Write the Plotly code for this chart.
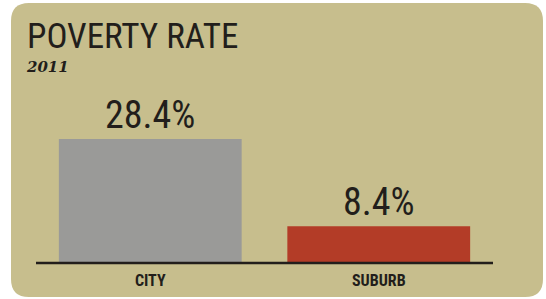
import plotly.graph_objects as go

categories = ["CITY", "SUBURB"]
values = [28.4, 8.4]
value_labels = ["28.4%", "8.4%"]
bar_colors = ["#9a9a98", "#b33c27"]
title_text = "POVERTY RATE"
subtitle_text = "2011"

W, H = 546, 299
L, R, T, B = 36, 53, 100, 36
PW, PH = W - L - R, H - T - B

CARD = "#c7be8d"
INK = "#221e1b"
COND = "Roboto Condensed, Roboto, sans-serif"

def px(X):
    return (X - L) / PW

def py(Y):
    return (H - B - Y) / PH

def cond(s):
    return f"<span style='font-stretch:condensed'>{s}</span>"

# rounded card
x0, x1, y0, y1, r = 11, 543, 3, 297, 18
path = (
    f"M {px(x0 + r)},{py(y0)} L {px(x1 - r)},{py(y0)} "
    f"Q {px(x1)},{py(y0)} {px(x1)},{py(y0 + r)} "
    f"L {px(x1)},{py(y1 - r)} Q {px(x1)},{py(y1)} {px(x1 - r)},{py(y1)} "
    f"L {px(x0 + r)},{py(y1)} Q {px(x0)},{py(y1)} {px(x0)},{py(y1 - r)} "
    f"L {px(x0)},{py(y0 + r)} Q {px(x0)},{py(y0)} {px(x0 + r)},{py(y0)} Z"
)

fig = go.Figure()
fig.add_trace(go.Bar(
    x=categories, y=values,
    marker=dict(color=bar_colors, line=dict(width=0)),
    hoverinfo="skip",
))

for c, v, t in zip(categories, values, value_labels):
    fig.add_annotation(x=c, y=v, text=cond(t), showarrow=False, xref="x", yref="y",
                       yanchor="bottom", yshift=0,
                       font=dict(family=COND, size=38, color=INK))

fig.add_annotation(x=px(25), y=py(14), xref="paper", yref="paper", text=cond(title_text),
                   showarrow=False, xanchor="left", yanchor="top",
                   font=dict(family=COND, size=35, color=INK))
fig.add_annotation(x=px(24), y=py(56), xref="paper", yref="paper",
                   text=f"<b><i>{subtitle_text}</i></b>",
                   showarrow=False, xanchor="left", yanchor="top",
                   font=dict(family="DejaVu Serif, serif", size=15, color=INK))

fig.update_layout(
    width=W, height=H,
    margin=dict(l=L, r=R, t=T, b=B, autoexpand=False),
    paper_bgcolor="white", plot_bgcolor="rgba(0,0,0,0)",
    showlegend=False, bargap=0.2,
    shapes=[dict(type="path", path=path, xref="paper", yref="paper",
                 fillcolor=CARD, line=dict(width=0), layer="below")],
    xaxis=dict(showgrid=False, zeroline=False, showline=False,
               ticks="", ticklabelstandoff=6, automargin=False,
               tickvals=categories, ticktext=[f"<b>{cond(c)}</b>" for c in categories],
               tickfont=dict(family=COND, size=16, color=INK)),
    yaxis=dict(range=[0, 37.3], visible=False, showgrid=False, zeroline=False),
)
fig.add_shape(type="line", xref="paper", yref="paper", x0=0, x1=1, y0=0, y1=0,
              line=dict(color=INK, width=2.5))

fig.write_html("out.html", config={"displayModeBar": False},
               post_script="document.body.style.margin='0';document.body.style.overflow='hidden';")
